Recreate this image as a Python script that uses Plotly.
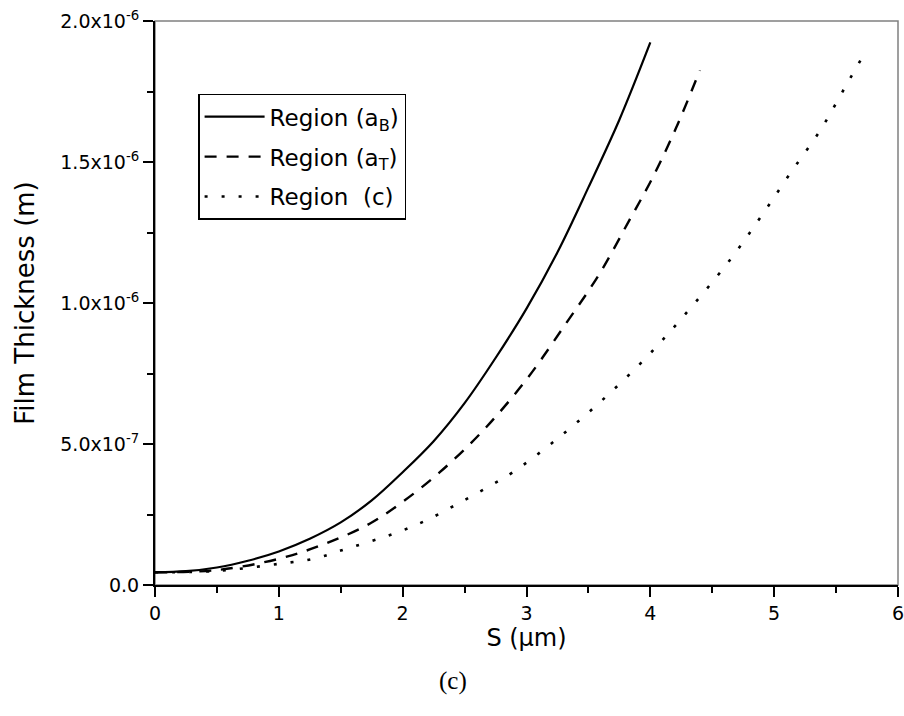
import plotly.graph_objects as go

# Sliding distance S (um) and film thickness (m) for each region
s_aB = [0.0, 0.25, 0.5, 0.75, 1.0, 1.25, 1.5, 1.75, 2.0, 2.25, 2.5, 2.75, 3.0, 3.25, 3.5, 3.75, 4.0]
h_aB = [4.5e-8, 4.9e-8, 6.2e-8, 8.6e-8, 1.19e-7, 1.64e-7, 2.22e-7, 3.0e-7, 4.0e-7, 5.1e-7,
        6.45e-7, 8.05e-7, 9.8e-7, 1.18e-6, 1.41e-6, 1.65e-6, 1.924e-6]

s_aT = [0.0, 0.5, 1.0, 1.385, 1.74, 2.0, 2.3, 2.65, 3.0, 3.32, 3.59, 3.83, 4.02, 4.21, 4.40]
h_aT = [4.5e-8, 5.3e-8, 9.3e-8, 1.48e-7, 2.19e-7, 2.95e-7, 4.0e-7, 5.48e-7, 7.29e-7, 9.28e-7,
        1.104e-6, 1.293e-6, 1.446e-6, 1.623e-6, 1.825e-6]

s_c = [0.0, 0.5, 1.0, 1.28, 1.5, 1.96, 2.19, 2.42, 2.65, 2.89, 3.23, 3.58, 3.93, 4.25, 4.64,
       4.89, 5.13, 5.38, 5.58, 5.72]
h_c = [4.5e-8, 5.0e-8, 7.5e-8, 9.3e-8, 1.22e-7, 1.87e-7, 2.29e-7, 2.82e-7, 3.38e-7, 4.0e-7,
       5.12e-7, 6.43e-7, 7.9e-7, 9.44e-7, 1.151e-6, 1.304e-6, 1.46e-6, 1.618e-6, 1.771e-6, 1.878e-6]

x_ticks = [0, 1, 2, 3, 4, 5, 6]
y_ticks = [0.0, 5e-7, 1e-6, 1.5e-6, 2e-6]
y_tick_text = ["0.0", "5.0x10<sup>-7</sup>", "1.0x10<sup>-6</sup>",
               "1.5x10<sup>-6</sup>", "2.0x10<sup>-6</sup>"]

FONT = "DejaVu Sans"

fig = go.Figure()
fig.add_trace(go.Scatter(x=s_aB, y=h_aB, mode="lines", name="Region (a<sub>B</sub>)",
                         legendgroup="aB",
                         line=dict(color="black", width=2.2, shape="spline", smoothing=1.0)))
fig.add_trace(go.Scatter(x=s_aT, y=h_aT, mode="lines", name="Region (a<sub>T</sub>)",
                         legendgroup="aT",
                         line=dict(color="black", width=2.4, dash="12px,10px",
                                   shape="spline", smoothing=1.0)))
fig.add_trace(go.Scatter(x=s_c, y=h_c, mode="lines", name="Region \u00a0(c)",
                         legendgroup="c",
                         line=dict(color="black", width=2.6, dash="3px,14px",
                                   shape="spline", smoothing=1.0)))

axis_common = dict(
    showgrid=False, zeroline=False, showline=True, linecolor="black", linewidth=2,
    ticks="outside", ticklen=10, tickwidth=2, tickcolor="black",
    tickfont=dict(family=FONT, size=19, color="black"),
    ticklabeloverflow="allow", automargin=False,
)

fig.update_xaxes(
    range=[0, 6], tickvals=x_ticks, ticktext=[str(v) for v in x_ticks],
    minor=dict(dtick=0.5, ticks="outside", ticklen=6, tickwidth=2, tickcolor="black"),
    title=dict(text="S (\u03bcm)", font=dict(family=FONT, size=24, color="black"), standoff=4),
    **axis_common,
)
fig.update_yaxes(
    range=[0, 2e-6], tickvals=y_ticks, ticktext=y_tick_text,
    minor=dict(dtick=2.5e-7, ticks="outside", ticklen=6, tickwidth=2, tickcolor="black"),
    title=dict(text="Film Thickness (m)", font=dict(family=FONT, size=26, color="black"),
               standoff=18),
    **axis_common,
)

# thin grey frame on top/right sides of the plotting area
fig.add_shape(type="rect", xref="paper", yref="paper", x0=0, x1=1, y0=0, y1=1,
              line=dict(color="#808080", width=1.5), layer="below")

fig.add_annotation(text="(c)", xref="paper", yref="paper", x=0.401, y=-0.171,
                   xanchor="center", yanchor="middle",
                   showarrow=False, font=dict(family="Liberation Serif", size=25, color="black"))

fig.update_layout(
    width=904, height=716,
    margin=dict(l=155, r=6, t=21, b=131),
    paper_bgcolor="white", plot_bgcolor="white",
    font=dict(family=FONT, color="black"),
    legend=dict(x=0.058, y=0.871, xanchor="left", yanchor="top",
                bgcolor="white", bordercolor="black", borderwidth=1.5,
                font=dict(family=FONT, size=23, color="black"),
                itemwidth=60, tracegroupgap=7, traceorder="grouped"),
    showlegend=True,
)

fig.write_html("out.html")
